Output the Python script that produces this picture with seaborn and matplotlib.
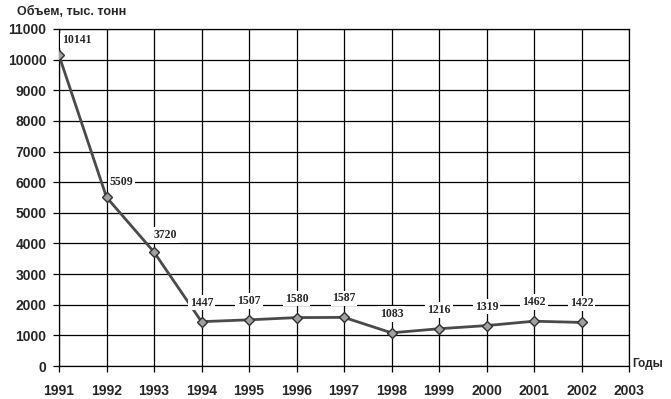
import matplotlib
matplotlib.use("Agg")
import matplotlib.pyplot as plt
import seaborn as sns
import pandas as pd

years = [1991, 1992, 1993, 1994, 1995, 1996, 1997, 1998, 1999, 2000, 2001, 2002]
volume = [10141, 5509, 3720, 1447, 1507, 1580, 1587, 1083, 1216, 1319, 1462, 1422]
x_ticks = list(range(1991, 2004))
y_ticks = list(range(0, 11001, 1000))
y_title = "Объем, тыс. тонн"
x_title = "Годы"

sns.set_style("white")
plt.rcParams['font.family'] = ['Liberation Sans', 'DejaVu Sans']

df = pd.DataFrame({"year": years, "volume": volume})

fig = plt.figure(figsize=(6.71, 3.99), dpi=100)
ax = fig.add_axes([59/671, (399-366)/399, (629-59)/671, (366-29)/399])

sns.lineplot(data=df, x="year", y="volume", ax=ax, color="#4a4a4a", linewidth=2,
             marker="D", markersize=5, markerfacecolor="#a0a0a0",
             markeredgecolor="#303030", markeredgewidth=1.0, zorder=4)

ax.set_xlim(1991, 2003)
ax.set_ylim(0, 11000)
ax.set_xticks(x_ticks)
ax.set_yticks(y_ticks)
ax.set_xticklabels([str(t) for t in x_ticks], fontsize=10, fontweight="bold")
ax.set_yticklabels([str(t) for t in y_ticks], fontsize=10, fontweight="bold")
ax.grid(True, color="#000000", linewidth=0.9)
ax.set_axisbelow(True)
for s in ax.spines.values():
    s.set_color("black")
    s.set_linewidth(0.9)
ax.tick_params(axis="y", which="both", left=True, length=4, width=0.9, pad=5, color="black")
ax.tick_params(axis="x", which="both", bottom=True, length=4, width=0.9, pad=9, color="black")
ax.set_xlabel("")
ax.set_ylabel("")

offsets = {1991: (3, 9), 1992: (3, 9), 1993: (0, 11)}
for x, y in zip(years, volume):
    if x in offsets:
        dx, dy = offsets[x]
        ha = "left"
    else:
        dx, dy = 0, 13
        ha = "center"
    ax.annotate(str(y), xy=(x, y), xytext=(dx, dy), textcoords="offset pixels",
                ha=ha, va="bottom", fontsize=8.5, fontweight="bold",
                family=["Liberation Serif", "DejaVu Serif"],
                bbox=dict(boxstyle="square,pad=0.15", fc="white", ec="none"),
                zorder=5)

fig.text(17/671, 1 - 12/399, y_title, ha="left", va="center", fontsize=9, fontweight="bold")
fig.text(632/671, 1 - 364/399, x_title, ha="left", va="center", fontsize=8.5, fontweight="bold")

fig.savefig("out.png", dpi=100)
